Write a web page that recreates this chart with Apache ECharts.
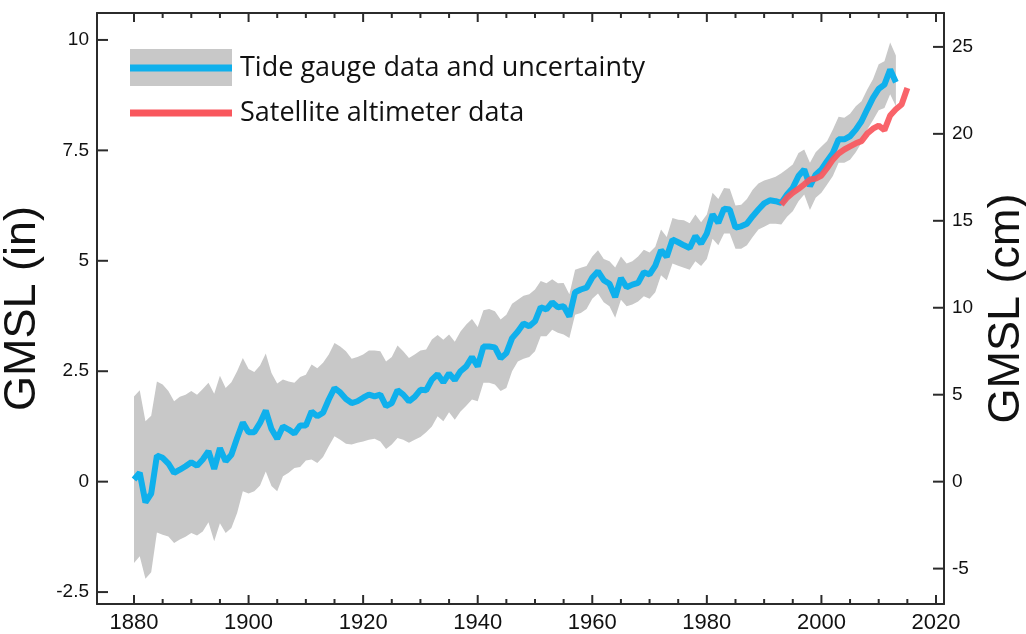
<!DOCTYPE html>
<html><head><meta charset="utf-8">
<script src="https://cdn.jsdelivr.net/npm/echarts@6/dist/echarts.min.js"></script>
<style>html,body{margin:0;padding:0;background:#fff}#c{width:1026px;height:634px}</style>
</head><body><div id="c"></div>
<script>
// ---- data (inches) ----
const tideStartYear = 1880;
const tideGauge = [
 0.05,0.2,-0.47,-0.27,0.59,0.54,0.41,0.2,0.27,0.35,
 0.44,0.36,0.5,0.69,0.29,0.76,0.46,0.61,0.99,1.34,
 1.12,1.12,1.33,1.61,1.19,0.97,1.25,1.18,1.09,1.27,
 1.27,1.59,1.48,1.56,1.86,2.12,2.02,1.87,1.78,1.82,
 1.9,1.97,1.93,1.97,1.71,1.78,2.07,1.97,1.82,1.92,
 2.08,2.07,2.31,2.43,2.25,2.45,2.3,2.5,2.61,2.82,
 2.61,3.06,3.06,3.04,2.79,2.91,3.25,3.4,3.58,3.52,
 3.63,3.95,3.9,4.06,3.95,3.97,3.74,4.29,4.35,4.39,
 4.62,4.76,4.56,4.48,4.18,4.61,4.4,4.46,4.5,4.74,
 4.69,4.89,5.24,5.09,5.48,5.42,5.35,5.29,5.56,5.39,
 5.62,6.05,5.86,6.18,6.16,5.75,5.78,5.84,6.01,6.16,
 6.3,6.37,6.35,6.31,6.5,6.65,6.92,7.07,6.69,6.95,
 7.07,7.26,7.44,7.75,7.75,7.82,7.97,8.16,8.43,8.69,
 8.89,8.99,9.33,9.04
];
const tideUpper = [
 1.93,2.07,1.37,1.49,2.27,2.2,2.05,1.82,1.92,1.97,
 2.05,1.97,2.1,2.24,1.99,2.4,2.12,2.25,2.5,2.8,
 2.55,2.48,2.63,2.9,2.46,2.22,2.31,2.27,2.24,2.37,
 2.42,2.65,2.57,2.69,2.88,3.14,3.06,2.95,2.78,2.82,
 2.88,2.97,2.97,2.95,2.72,2.82,3.08,2.95,2.8,2.88,
 2.97,2.99,3.22,3.32,3.21,3.33,3.17,3.4,3.56,3.68,
 3.5,3.88,3.91,3.86,3.67,3.78,4.03,4.12,4.21,4.24,
 4.35,4.54,4.49,4.58,4.49,4.5,4.24,4.8,4.84,4.88,
 5.1,5.24,5.04,4.99,4.85,5.1,4.94,4.99,5.1,5.25,
 5.19,5.32,5.71,5.54,5.97,5.93,5.92,5.85,6.05,5.87,
 6.05,6.54,6.4,6.65,6.63,6.25,6.27,6.4,6.61,6.75,
 6.82,6.86,6.9,6.98,7.08,7.18,7.44,7.52,7.22,7.46,
 7.59,7.71,7.97,8.26,8.24,8.33,8.5,8.61,8.88,9.11,
 9.45,9.52,9.94,9.65
];
const tideLower = [
 -1.84,-1.69,-2.2,-2.05,-1.15,-1.2,-1.24,-1.39,-1.31,-1.25,
 -1.16,-1.22,-1.13,-0.92,-1.35,-0.94,-1.16,-1.05,-0.71,-0.22,
 -0.27,-0.22,-0.09,0.23,-0.1,-0.22,0.12,0.2,0.31,0.33,
 0.48,0.5,0.42,0.56,0.8,1.03,0.95,0.86,0.84,0.88,
 0.91,0.95,0.97,0.91,0.74,0.84,0.99,0.95,0.88,0.95,
 1.01,1.12,1.25,1.48,1.37,1.57,1.4,1.59,1.72,1.86,
 1.82,2.24,2.24,2.2,2.05,2.12,2.5,2.72,2.78,2.82,
 2.95,3.29,3.29,3.44,3.37,3.33,3.25,3.78,3.82,3.91,
 4.14,4.26,4.06,3.97,3.71,4.12,3.97,4.01,4.08,4.2,
 4.14,4.29,4.67,4.56,4.94,4.89,4.84,4.8,4.99,4.88,
 5.04,5.5,5.35,5.62,5.62,5.27,5.27,5.35,5.54,5.71,
 5.77,5.84,5.84,5.82,6.0,6.12,6.35,6.5,6.15,6.43,
 6.54,6.73,6.92,7.22,7.22,7.29,7.46,7.67,7.97,8.18,
 8.41,8.46,8.77,8.5
];
const satStartYear = 1993;
const satellite = [
 6.27,6.43,6.54,6.63,6.73,6.84,6.86,6.93,7.1,7.29,
 7.43,7.52,7.59,7.66,7.71,7.88,7.99,8.06,7.96,8.29,
 8.43,8.54,8.91
];
const xMajorTicks = [1880,1900,1920,1940,1960,1980,2000,2020];
const xMinorTicks = [1885,1890,1895,1905,1910,1915,1925,1930,1935,1945,1950,1955,
                     1965,1970,1975,1985,1990,1995,2005,2010,2015];
const yTicksIn = [-2.5,0,2.5,5,7.5,10];
const yTicksCm = [-5,0,5,10,15,20,25];
const legendLabels = ['Tide gauge data and uncertainty','Satellite altimeter data'];
const CM_PER_IN = 2.54;

const tideYears = tideGauge.map((_, i) => tideStartYear + i);
const satYears = satellite.map((_, i) => satStartYear + i);

// ---- style ----
const BLUE = '#0fb0ec', RED = '#f9575d', GREY = '#c8c8c8', AX = '#2b2b2b';
const Y_MIN = -2.77, Y_MAX = 10.61, X_MIN = 1873.54, X_MAX = 2021.4;

const chart = echarts.init(document.getElementById('c'), null, {renderer: 'canvas'});

function renderBand(params, api) {
  if (params.dataIndex !== 0) return;
  const pts = [];
  for (let i = 0; i < tideYears.length; i++) pts.push(api.coord([tideYears[i], tideUpper[i]]));
  for (let i = tideYears.length - 1; i >= 0; i--) pts.push(api.coord([tideYears[i], tideLower[i]]));
  return {type: 'polygon', shape: {points: pts}, style: {fill: GREY}};
}

const labelFont = '"Liberation Sans",Arial,sans-serif';

const legendGraphic = [
  {type: 'rect', left: 130, top: 49, shape: {width: 102, height: 37}, style: {fill: GREY}, z: 10},
  {type: 'line', shape: {x1: 130, y1: 68, x2: 232, y2: 68}, style: {stroke: BLUE, lineWidth: 7}, z: 11},
  {type: 'text', x: 240, y: 68, z: 11, style: {text: legendLabels[0], fill: '#111',
    font: '27px "Open Sans", sans-serif', verticalAlign: 'middle'}},
  {type: 'line', shape: {x1: 130, y1: 113, x2: 232, y2: 113}, style: {stroke: RED, lineWidth: 7}, z: 11},
  {type: 'text', x: 240, y: 113, z: 11, style: {text: legendLabels[1], fill: '#111',
    font: '27px "Open Sans", sans-serif', verticalAlign: 'middle'}}
];

const option = {
  backgroundColor: '#fff',
  animation: false,
  grid: {left: 97, top: 13, right: 82, bottom: 30, containLabel: false, outerBoundsMode: 'none'},
  xAxis: [
    {
      type: 'value', position: 'bottom', min: X_MIN, max: X_MAX,
      axisLine: {show: true, onZero: false, lineStyle: {color: AX, width: 2}},
      axisTick: {show: false},
      axisLabel: {show: true, customValues: xMajorTicks, margin: 8, fontSize: 22,
        formatter: v => String(v), fontFamily: labelFont, color: '#111'},
      splitLine: {show: false}
    },
    {
      type: 'value', position: 'top', min: X_MIN, max: X_MAX,
      axisLine: {show: true, onZero: false, lineStyle: {color: AX, width: 2}},
      axisTick: {show: false}, axisLabel: {show: false}, splitLine: {show: false}
    }
  ],
  yAxis: [
    {
      type: 'value', position: 'left', min: Y_MIN, max: Y_MAX,
      name: 'GMSL (in)', nameLocation: 'middle', nameRotate: 90, nameGap: 44,
      nameTextStyle: {fontSize: 45, fontFamily: labelFont, color: '#111'},
      axisLine: {show: true, onZero: false, lineStyle: {color: AX, width: 2}},
      axisTick: {show: false},
      axisLabel: {show: true, customValues: yTicksIn, margin: 8, fontSize: 19,
        fontFamily: labelFont, color: '#111'},
      splitLine: {show: false}
    },
    {
      type: 'value', position: 'right', min: Y_MIN * CM_PER_IN, max: Y_MAX * CM_PER_IN,
      name: 'GMSL (cm)', nameLocation: 'middle', nameRotate: 90, nameGap: 39,
      nameTextStyle: {fontSize: 45, fontFamily: labelFont, color: '#111'},
      axisLine: {show: true, onZero: false, lineStyle: {color: AX, width: 2}},
      axisTick: {show: false},
      axisLabel: {show: true, customValues: yTicksCm, margin: 8, fontSize: 19,
        fontFamily: labelFont, color: '#111'},
      splitLine: {show: false}
    }
  ],
  series: [
    {
      type: 'custom', name: 'uncertainty', xAxisIndex: 0, yAxisIndex: 0,
      renderItem: renderBand,
      data: tideYears.map((y, i) => [y, tideLower[i], tideUpper[i]]),
      encode: {x: 0, y: [1, 2]}, z: 1, silent: true
    },
    {
      type: 'line', name: legendLabels[0], xAxisIndex: 0, yAxisIndex: 0,
      data: tideYears.map((y, i) => [y, tideGauge[i]]),
      showSymbol: false, symbol: 'none',
      lineStyle: {color: BLUE, width: 6}, z: 3
    },
    {
      type: 'line', name: legendLabels[1], xAxisIndex: 0, yAxisIndex: 0,
      data: satYears.map((y, i) => [y, satellite[i]]),
      showSymbol: false, symbol: 'none',
      lineStyle: {color: RED, width: 6, opacity: 0.92}, z: 4
    }
  ],
  graphic: legendGraphic
};
chart.setOption(option);

// inward tick marks, positioned through the chart's own axis scales
const tickGraphic = [];
function addTick(finder, pt, dx, dy) {
  const p = chart.convertToPixel(finder, pt);
  if (!p) return;
  tickGraphic.push({type: 'line', z: 50, silent: true,
    shape: {x1: p[0], y1: p[1], x2: p[0] + dx, y2: p[1] + dy},
    style: {stroke: AX, lineWidth: 2}});
}
const inFinder = {xAxisIndex: 0, yAxisIndex: 0};
const cmFinder = {xAxisIndex: 0, yAxisIndex: 1};
xMajorTicks.forEach(v => { addTick(inFinder, [v, Y_MIN], 0, -9); addTick(inFinder, [v, Y_MAX], 0, 9); });
xMinorTicks.forEach(v => { addTick(inFinder, [v, Y_MIN], 0, -5); addTick(inFinder, [v, Y_MAX], 0, 5); });
yTicksIn.forEach(v => addTick(inFinder, [X_MIN, v], 11, 0));
yTicksCm.forEach(v => addTick(cmFinder, [X_MAX, v], -11, 0));
chart.setOption({graphic: legendGraphic.concat(tickGraphic)});
</script>
</body></html>
